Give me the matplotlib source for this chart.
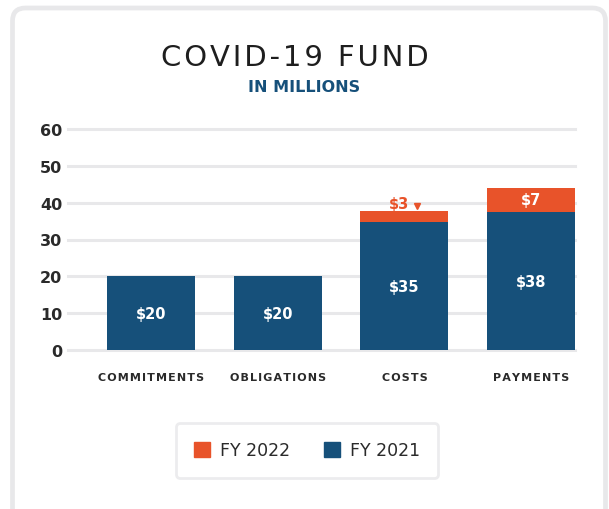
import matplotlib.pyplot as plt
from matplotlib.patches import FancyBboxPatch
from matplotlib.transforms import IdentityTransform
import numpy as np

plt.rcParams["font.family"] = ["DejaVu Sans"]

categories = ["COMMITMENTS", "OBLIGATIONS", "COSTS", "PAYMENTS"]
fy2021 = [20, 20, 34.8, 37.5]
fy2022 = [0, 0, 3.0, 6.5]
yticks = [0, 10, 20, 30, 40, 50, 60]

ORANGE = "#E8532A"
BLUE = "#16507A"
GRID = "#E8E8EA"
TEXT = "#2A2A2A"


def spaced(s, sep="\u200a"):
    # crude letter spacing
    return sep.join(s)


def money(v):
    return f"${int(v + 0.5)}"


W, H = 609, 510
fig = plt.figure(figsize=(W / 100, H / 100), dpi=100)

# card outline in pixel coords, bottom edge runs off the image
card = FancyBboxPatch((12.5, H - 525), 593, 516,
                      boxstyle="round,pad=0,rounding_size=13",
                      transform=IdentityTransform(), facecolor="white",
                      edgecolor=GRID, linewidth=3.4, zorder=-5)
fig.patches.append(card)

fig.text(0.484, 1 - 58 / H, spaced("COVID-19 FUND"), ha="center", va="center",
         fontsize=21, color="#1E1E1E")
fig.text(0.5, 1 - 87 / H, "IN MILLIONS", ha="center", va="center",
         fontsize=11.5, color=BLUE, fontweight="bold")

ax = fig.add_axes([68 / W, 1 - 351 / H, (575 - 68) / W, (351 - 130) / H])
ax.patch.set_alpha(0)
x = np.arange(len(categories))
bw = 88 / 127
ax.bar(x, fy2021, width=bw, color=BLUE, zorder=3)
ax.bar(x, fy2022, width=bw, bottom=fy2021, color=ORANGE, zorder=3)

for t in yticks:
    ax.axhline(t, color=GRID, linewidth=2.2, zorder=1, clip_on=False)

ax.set_xlim(-0.654, 3.346)
ax.set_ylim(0, 60)
ax.set_yticks(yticks)
ax.set_yticklabels([str(t) for t in yticks], fontsize=11.5, fontweight="bold", color=TEXT)
ax.set_xticks(x)
ax.set_xticklabels([spaced(c) for c in categories], fontsize=8, fontweight="bold",
                   color=TEXT)
ax.tick_params(axis="both", length=0)
ax.tick_params(axis="y", pad=4)
ax.tick_params(axis="x", pad=16)
for s in ax.spines.values():
    s.set_visible(False)

# value labels
for i in range(len(categories)):
    ax.text(x[i], fy2021[i] / 2 - 0.2, money(fy2021[i]), ha="center", va="center",
            color="white", fontsize=10.5, fontweight="bold", zorder=4)
    if fy2022[i] >= 5:
        ax.text(x[i], fy2021[i] + fy2022[i] / 2, money(fy2022[i]), ha="center",
                va="center", color="white", fontsize=10.5, fontweight="bold", zorder=4)
    elif fy2022[i] > 0:
        top = fy2021[i] + fy2022[i]
        ax.text(x[i] - 0.04, top - 0.1, money(fy2022[i]), ha="center", va="bottom",
                color=ORANGE, fontsize=10.5, fontweight="bold", zorder=4)
        ax.plot([x[i] + 0.10], [top + 1.3], marker="v", color=ORANGE,
                markersize=5, zorder=4, clip_on=False)

handles = [plt.Rectangle((0, 0), 1, 1, color=ORANGE),
           plt.Rectangle((0, 0), 1, 1, color=BLUE)]
leg = fig.legend(handles, ["FY 2022", "FY 2021"], loc="center",
                 bbox_to_anchor=(307 / W, 1 - 451.5 / H), ncol=2,
                 fontsize=12.5, frameon=True, fancybox=True,
                 handlelength=0.9, handleheight=0.9, handletextpad=0.55,
                 columnspacing=2.0, borderpad=1.05)
leg.get_frame().set_edgecolor(GRID)
leg.get_frame().set_linewidth(2)
for t in leg.get_texts():
    t.set_color(TEXT)

fig.savefig("out.png", dpi=100)
